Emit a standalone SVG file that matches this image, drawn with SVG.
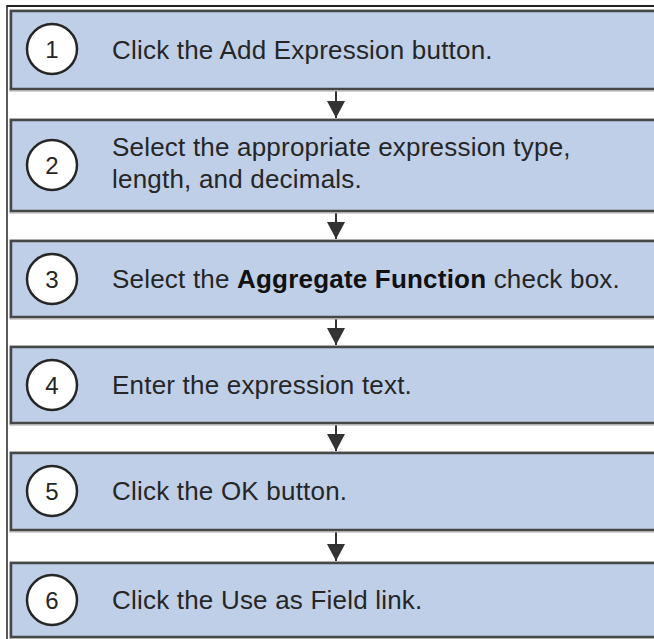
<svg xmlns="http://www.w3.org/2000/svg" width="654" height="639" viewBox="0 0 654 639">
  <style>
    .box { fill: #BFCFE8; stroke: #474747; stroke-width: 2.5; }
    .halo { fill: none; stroke: #A8A8A8; stroke-width: 1; }
    .badge { fill: #FFFFFF; stroke: #262626; stroke-width: 2.5; }
    .num { font-family: "Liberation Sans", Arial, sans-serif; font-size: 24px; fill: #262626; text-anchor: middle; }
    .label { font-family: "Liberation Sans", Arial, sans-serif; font-size: 26px; fill: #262626; letter-spacing: 0.2px; }
    .bold { font-weight: bold; fill: #111111; }
    .link { stroke: #333333; stroke-width: 2; fill: none; }
    .frame { stroke: #222222; fill: none; }
  </style>
  <defs>
    <!-- downward-pointing filled triangle; tip lands on the line end -->
    <marker id="arrowhead" markerUnits="userSpaceOnUse" markerWidth="18" markerHeight="18" refX="17" refY="9" orient="auto" viewBox="0 0 18 18">
      <path d="M0,0 L17,9 L0,18 Z" fill="#333333"/>
    </marker>
  </defs>

  <rect width="654" height="639" fill="#FFFFFF"/>

  <!-- outer frame -->
  <g id="frame">
    <line class="frame" x1="7" y1="6" x2="654" y2="6" stroke-width="2"/>
    <line class="frame" x1="7" y1="5" x2="7" y2="639" stroke-width="1.5"/>
  </g>

  <!-- connectors -->
  <g id="connectors">
    <line class="link" x1="336" y1="91" x2="336" y2="118" marker-end="url(#arrowhead)"/>
    <line class="link" x1="336" y1="213" x2="336" y2="239" marker-end="url(#arrowhead)"/>
    <line class="link" x1="336" y1="319" x2="336" y2="345" marker-end="url(#arrowhead)"/>
    <line class="link" x1="336" y1="425" x2="336" y2="451" marker-end="url(#arrowhead)"/>
    <line class="link" x1="336" y1="532" x2="336" y2="561" marker-end="url(#arrowhead)"/>
  </g>

  <g id="step1">
    <rect class="halo" x="10" y="10" width="660" height="81"/>
    <rect class="box" x="11" y="11" width="660" height="78"/>
    <circle class="badge" cx="52" cy="49" r="25"/>
    <text class="num" x="52" y="58">1</text>
    <text class="label" x="112" y="59">Click the Add Expression button.</text>
  </g>

  <g id="step2">
    <rect class="halo" x="10" y="119" width="660" height="94"/>
    <rect class="box" x="11" y="120" width="660" height="91"/>
    <circle class="badge" cx="52" cy="165" r="25"/>
    <text class="num" x="52" y="174">2</text>
    <text class="label" x="112" y="156">Select the appropriate expression type,</text>
    <text class="label" x="112" y="188">length, and decimals.</text>
  </g>

  <g id="step3">
    <rect class="halo" x="10" y="240" width="660" height="79"/>
    <rect class="box" x="11" y="241" width="660" height="76"/>
    <circle class="badge" cx="52" cy="279" r="25"/>
    <text class="num" x="52" y="288">3</text>
    <text class="label" x="112" y="288">Select the <tspan class="bold">Aggregate Function</tspan> check box.</text>
  </g>

  <g id="step4">
    <rect class="halo" x="10" y="346" width="660" height="79"/>
    <rect class="box" x="11" y="347" width="660" height="76"/>
    <circle class="badge" cx="52" cy="385" r="25"/>
    <text class="num" x="52" y="394">4</text>
    <text class="label" x="112" y="394">Enter the expression text.</text>
  </g>

  <g id="step5">
    <rect class="halo" x="10" y="452" width="660" height="80"/>
    <rect class="box" x="11" y="453" width="660" height="77"/>
    <circle class="badge" cx="52" cy="491" r="25"/>
    <text class="num" x="52" y="500">5</text>
    <text class="label" x="112" y="500">Click the OK button.</text>
  </g>

  <g id="step6">
    <rect class="halo" x="10" y="562" width="660" height="77"/>
    <rect class="box" x="11" y="563" width="660" height="74"/>
    <circle class="badge" cx="52" cy="600" r="25"/>
    <text class="num" x="52" y="609">6</text>
    <text class="label" x="112" y="609">Click the Use as Field link.</text>
  </g>
</svg>
